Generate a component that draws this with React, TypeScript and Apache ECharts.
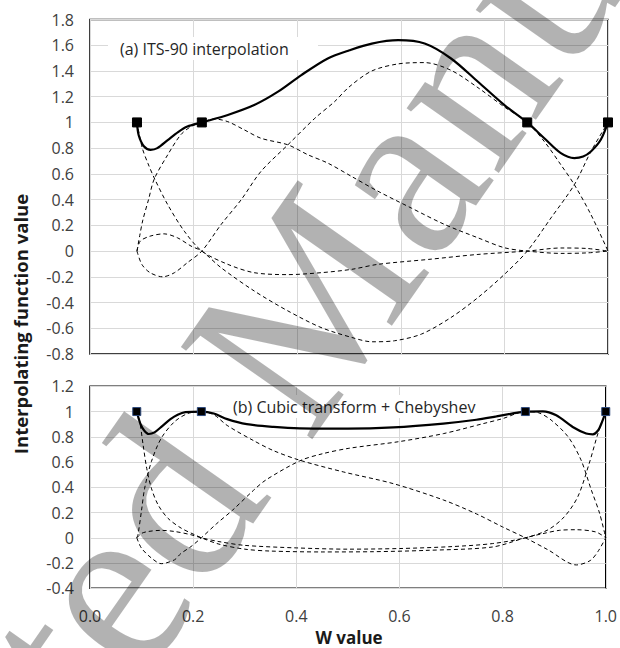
import { useEffect, useRef } from "react";
import * as echarts from "echarts";

// Interpolation nodes (W of the fixed points) and the value every cardinal function takes there
const W_NODES = [0.0907, 0.2159, 0.8441, 1.0];
const NODE_VALUES = [1, 1, 1, 1];

// Panel (a): ITS-90 interpolation
const A_COMBINED = [
  [0.0907, 1.0], [0.094, 0.9], [0.104, 0.815], [0.117, 0.787], [0.13, 0.8], [0.15, 0.862],
  [0.17, 0.925], [0.188, 0.968], [0.2159, 1.0], [0.266, 1.058], [0.317, 1.135], [0.363, 1.239],
  [0.408, 1.368], [0.459, 1.497], [0.501, 1.561], [0.544, 1.613], [0.595, 1.639], [0.646, 1.613],
  [0.697, 1.497], [0.749, 1.316], [0.8, 1.135], [0.8441, 1.0], [0.877, 0.877], [0.909, 0.761],
  [0.935, 0.723], [0.952, 0.735], [0.967, 0.774], [0.986, 0.865], [1.0, 1.0],
];
const A_L1 = [
  [0.0907, 1.0], [0.101, 0.8], [0.112, 0.68], [0.124, 0.568], [0.15, 0.361], [0.182, 0.155],
  [0.2159, 0.0], [0.266, -0.103], [0.317, -0.168], [0.382, -0.183], [0.446, -0.168],
  [0.505, -0.142], [0.556, -0.103], [0.653, -0.065], [0.749, -0.026], [0.8441, 0.0],
  [0.909, 0.024], [0.96, 0.02], [1.0, 0.0],
];
const A_L2 = [
  [0.0907, 0.0], [0.096, 0.12], [0.102, 0.241], [0.113, 0.4], [0.124, 0.56], [0.15, 0.748],
  [0.175, 0.903], [0.195, 0.968], [0.2159, 1.0], [0.24, 1.027], [0.266, 1.006], [0.298, 0.942],
  [0.33, 0.877], [0.382, 0.826], [0.421, 0.748], [0.459, 0.684], [0.505, 0.58], [0.556, 0.465],
  [0.62, 0.335], [0.685, 0.206], [0.749, 0.103], [0.8, 0.026], [0.8441, 0.0], [0.909, -0.018],
  [0.96, -0.014], [1.0, 0.0],
];
const A_L3 = [
  [0.0907, 0.0], [0.1, -0.103], [0.116, -0.168], [0.14, -0.2], [0.163, -0.168], [0.188, -0.09],
  [0.2159, 0.0], [0.253, 0.206], [0.292, 0.4], [0.33, 0.619], [0.382, 0.826], [0.434, 1.032],
  [0.472, 1.161], [0.5, 1.275], [0.544, 1.4], [0.595, 1.455], [0.646, 1.465], [0.697, 1.405],
  [0.749, 1.27], [0.8, 1.12], [0.8441, 1.0], [0.877, 0.852], [0.909, 0.671], [0.935, 0.516],
  [0.967, 0.284], [1.0, 0.0],
];
const A_L4 = [
  [0.0907, 0.0], [0.097, 0.077], [0.116, 0.116], [0.143, 0.134], [0.169, 0.103], [0.195, 0.039],
  [0.2159, 0.0], [0.253, -0.129], [0.317, -0.31], [0.382, -0.465], [0.446, -0.594],
  [0.505, -0.671], [0.544, -0.705], [0.588, -0.697], [0.64, -0.645], [0.697, -0.516],
  [0.749, -0.361], [0.8, -0.181], [0.8441, 0.0], [0.89, 0.258], [0.935, 0.516], [0.967, 0.774],
  [1.0, 1.0],
];

// Panel (b): cubic transform + Chebyshev
const B_COMBINED = [
  [0.0907, 1.0], [0.094, 0.95], [0.098, 0.9], [0.105, 0.85], [0.114, 0.822], [0.125, 0.835],
  [0.14, 0.885], [0.156, 0.94], [0.17, 0.975], [0.185, 0.995], [0.2159, 1.0], [0.24, 0.985],
  [0.266, 0.94], [0.304, 0.9], [0.356, 0.878], [0.407, 0.867], [0.5, 0.865], [0.588, 0.875],
  [0.685, 0.905], [0.749, 0.935], [0.788, 0.962], [0.82, 0.985], [0.8441, 1.0], [0.878, 1.002],
  [0.904, 0.97], [0.936, 0.878], [0.962, 0.826], [0.975, 0.82], [0.985, 0.85], [0.993, 0.92],
  [1.0, 1.0],
];
const B_L1 = [
  [0.0907, 1.0], [0.0965, 0.92], [0.103, 0.735], [0.11, 0.55], [0.119, 0.393], [0.132, 0.261],
  [0.151, 0.155], [0.177, 0.076], [0.203, 0.024], [0.2159, 0.0], [0.25, -0.05], [0.3, -0.09],
  [0.35, -0.105], [0.45, -0.112], [0.55, -0.11], [0.65, -0.1], [0.78, -0.073], [0.8441, 0.0],
  [0.878, 0.033], [0.91, 0.059], [0.942, 0.064], [0.981, 0.046], [1.0, 0.0],
];
const B_L2 = [
  [0.0907, 0.0], [0.093, 0.024], [0.1, 0.22], [0.106, 0.393], [0.119, 0.603], [0.138, 0.788],
  [0.164, 0.92], [0.19, 0.985], [0.2159, 1.0], [0.24, 0.975], [0.266, 0.89], [0.317, 0.77],
  [0.356, 0.69], [0.407, 0.614], [0.492, 0.521], [0.588, 0.429], [0.685, 0.3], [0.749, 0.19],
  [0.8, 0.086], [0.8441, 0.0], [0.888, -0.095], [0.943, -0.215], [0.97, -0.18], [0.985, -0.108],
  [1.0, 0.0],
];
const B_L3 = [
  [0.0907, 0.0], [0.0998, -0.082], [0.119, -0.16], [0.138, -0.205], [0.164, -0.174],
  [0.176, -0.125], [0.196, -0.069], [0.2159, 0.0], [0.245, 0.11], [0.277, 0.221], [0.317, 0.376],
  [0.341, 0.458], [0.407, 0.61], [0.45, 0.665], [0.502, 0.709], [0.598, 0.761], [0.685, 0.825],
  [0.762, 0.904], [0.8, 0.944], [0.8441, 1.0], [0.87, 0.99], [0.894, 0.933], [0.927, 0.8],
  [0.952, 0.617], [0.972, 0.379], [0.988, 0.195], [1.0, 0.0],
];
const B_L4 = [
  [0.0907, 0.0], [0.1, 0.035], [0.113, 0.05], [0.137, 0.059], [0.164, 0.05], [0.196, 0.024],
  [0.2159, 0.0], [0.25, -0.03], [0.3, -0.06], [0.4, -0.08], [0.5, -0.09], [0.6, -0.085],
  [0.7, -0.07], [0.78, -0.046], [0.8441, 0.0], [0.888, 0.063], [0.92, 0.168], [0.946, 0.327],
  [0.968, 0.59], [0.985, 0.828], [1.0, 1.0],
];

const PANEL_A_LABEL = "(a) ITS-90 interpolation";
const PANEL_B_LABEL = "(b) Cubic transform + Chebyshev";
const X_TITLE = "W value";
const Y_TITLE = "Interpolating function value";
const WATERMARK = "Accepted Manuscript";

const SANS = '"Open Sans", sans-serif';

export default function App() {
  const ref = useRef<HTMLDivElement>(null);

  useEffect(() => {
    document.body.style.margin = "0";
    const chart = echarts.init(ref.current!, undefined, { renderer: "svg" });

    const fmtY = (v: number) => String(Math.round(v * 10) / 10);

    const xAxis = (gridIndex: number, labels: boolean) => ({
      type: "value",
      gridIndex,
      min: 0,
      max: 1,
      interval: 0.2,
      axisLine: { show: false },
      axisTick: { show: false },
      axisLabel: {
        show: labels,
        margin: 20,
        color: "#404040",
        fontFamily: SANS,
        fontSize: 16,
        showMinLabel: true,
        showMaxLabel: true,
        formatter: (v: number) => v.toFixed(1),
      },
      splitLine: { show: true, lineStyle: { color: "#d9d9d9", width: 1 } },
    });

    const yAxis = (gridIndex: number, min: number, max: number) => ({
      type: "value",
      gridIndex,
      min,
      max,
      interval: 0.2,
      axisLine: { show: false },
      axisTick: { show: false },
      axisLabel: {
        margin: 16,
        color: "#404040",
        fontFamily: SANS,
        fontSize: 16,
        showMinLabel: true,
        showMaxLabel: true,
        formatter: fmtY,
      },
      splitLine: { show: true, lineStyle: { color: "#d9d9d9", width: 1 } },
    });

    const dashed = (data: number[][], idx: number) => ({
      type: "line",
      xAxisIndex: idx,
      yAxisIndex: idx,
      data,
      smooth: 0.3,
      symbol: "none",
      silent: true,
      z: 3,
      lineStyle: { color: "#000", width: 1, type: [4, 3] },
    });

    const solid = (data: number[][], idx: number) => ({
      type: "line",
      xAxisIndex: idx,
      yAxisIndex: idx,
      data,
      smooth: 0.3,
      symbol: "none",
      silent: true,
      z: 4,
      lineStyle: { color: "#000", width: 2.2 },
    });

    const nodes = (idx: number, size: number, border: string) => ({
      type: "scatter",
      xAxisIndex: idx,
      yAxisIndex: idx,
      data: W_NODES.map((w, i) => [w, NODE_VALUES[i]]),
      symbol: "rect",
      symbolSize: size,
      silent: true,
      z: 5,
      itemStyle: { color: "#000", borderColor: border, borderWidth: 1, opacity: 1 },
    });

    // watermark: the middle vertex of its "M" sits at (367, 353)
    const wmSize = 245;
    const wmLead = (4.026 + 0.445) * wmSize;

    chart.setOption({
      animation: false,
      backgroundColor: "#fff",
      grid: [
        { left: 90, top: 19.5, width: 518, height: 334.5, show: true, borderColor: "#000", borderWidth: 1.5, backgroundColor: "transparent" },
        { left: 90, top: 386.3, width: 518, height: 202, show: true, borderColor: "#000", borderWidth: 1.5, backgroundColor: "transparent" },
      ],
      xAxis: [xAxis(0, false), xAxis(1, true)],
      yAxis: [yAxis(0, -0.8, 1.8), yAxis(1, -0.4, 1.2)],
      series: [
        dashed(A_L1, 0), dashed(A_L2, 0), dashed(A_L3, 0), dashed(A_L4, 0),
        solid(A_COMBINED, 0), nodes(0, 9, "#000"),
        dashed(B_L1, 1), dashed(B_L2, 1), dashed(B_L3, 1), dashed(B_L4, 1),
        solid(B_COMBINED, 1), nodes(1, 8, "#2e4a7d"),
      ],
      graphic: [
        { type: "rect", z: 1, shape: { x: 108, y: 37, width: 210, height: 23 }, style: { fill: "#fff" } },
        { type: "text", z: 1, x: 120, y: 49, style: { text: PANEL_A_LABEL, font: `16px ${SANS}`, fill: "#262626", verticalAlign: "middle" } },
        { type: "rect", z: 1, shape: { x: 222, y: 395, width: 270, height: 23 }, style: { fill: "#fff" } },
        { type: "text", z: 1, x: 233, y: 407, style: { text: PANEL_B_LABEL, font: `16px ${SANS}`, fill: "#262626", verticalAlign: "middle" } },
        { type: "text", z: 10, x: 349, y: 637, style: { text: X_TITLE, font: `bold 17px ${SANS}`, fill: "#1a1a1a", align: "center", verticalAlign: "middle" } },
        { type: "text", z: 10, x: 20, y: 324, rotation: Math.PI / 2, style: { text: Y_TITLE, font: `bold 18.5px ${SANS}`, fill: "#1a1a1a", align: "center", verticalAlign: "middle" } },
        {
          type: "group",
          x: 367,
          y: 353,
          rotation: (55 * Math.PI) / 180,
          z: 50,
          children: [
            { type: "text", z: 50, x: -wmLead, y: 0.18 * wmSize, style: { text: WATERMARK, font: `${wmSize}px "Liberation Serif", serif`, fill: "rgba(0,0,0,0.3)", verticalAlign: "bottom" } },
          ],
        },
      ],
    });

    return () => chart.dispose();
  }, []);

  return <div ref={ref} style={{ width: 620, height: 648 }} />;
}
